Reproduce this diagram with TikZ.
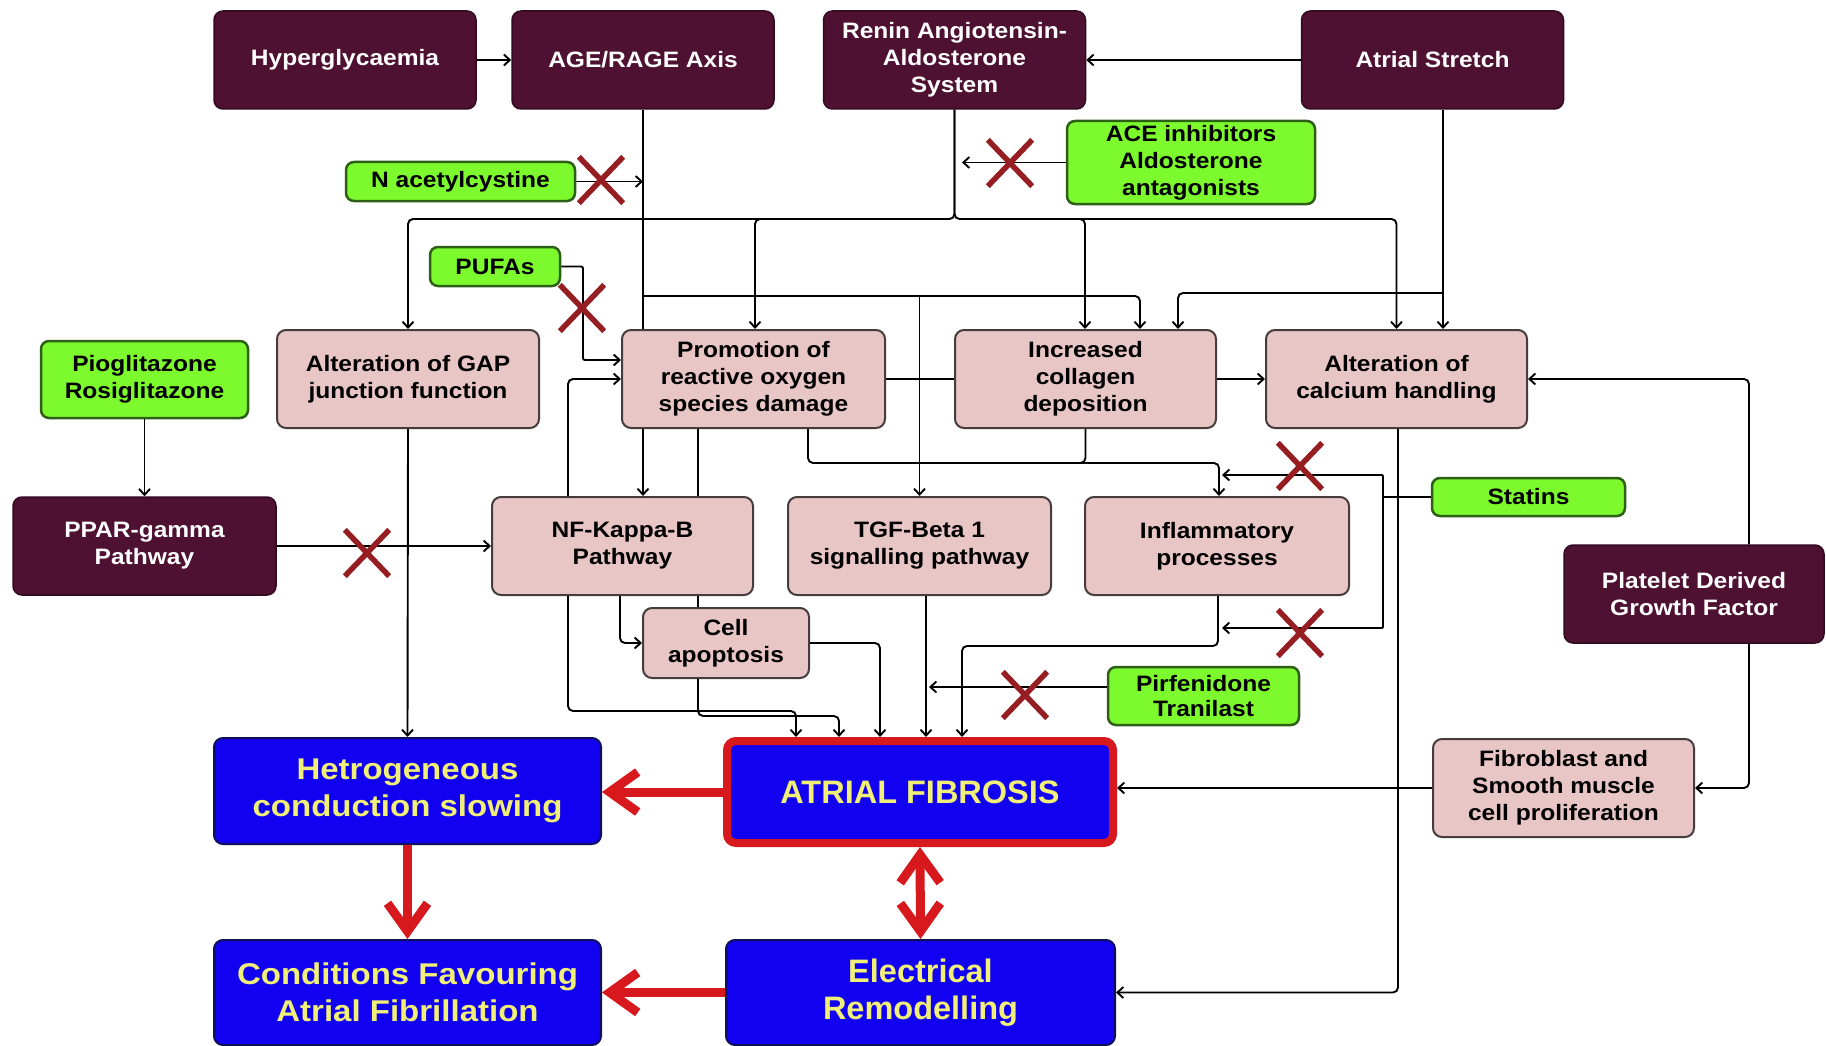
\documentclass[tikz,border=0pt]{standalone}
\usepackage{fontspec}
\setmainfont{Liberation Sans}[FakeStretch=1.1]
\newfontfamily\plainfont{Liberation Sans}
\usetikzlibrary{arrows.meta,calc}
\definecolor{maroonf}{RGB}{78,17,50}
\definecolor{maroonline}{RGB}{50,10,32}
\definecolor{pinkf}{RGB}{233,198,198}
\definecolor{pinkline}{RGB}{70,60,60}
\definecolor{greenf}{RGB}{125,250,45}
\definecolor{greenline}{RGB}{45,95,20}
\definecolor{bluef}{RGB}{18,0,240}
\definecolor{blueline}{RGB}{15,15,90}
\definecolor{yellowt}{RGB}{240,240,120}
\definecolor{redc}{RGB}{215,25,30}
\definecolor{xcol}{RGB}{150,30,35}
\newcommand{\myX}[3]{\node[xbox] (#1) at (#2,#3) {};
  \draw[xline] (#1.north west) -- (#1.south east) (#1.north east) -- (#1.south west);}
\tikzset{
  box/.style={rectangle, rounded corners=9pt, align=center, inner sep=0pt,
    minimum width=262pt, minimum height=98pt},
  smallfont/.style={font=\fontsize{22.3}{27}\selectfont\bfseries},
  darkbox/.style={box, smallfont, fill=maroonf, draw=maroonline, line width=1.5pt, text=white},
  pinkbox/.style={box, smallfont, fill=pinkf, draw=pinkline, line width=2pt, text=black},
  greenbox/.style={box, smallfont, rounded corners=8pt, fill=greenf, draw=greenline, line width=2.5pt, text=black},
  bluebox/.style={box, fill=bluef, draw=blueline, line width=2pt, text=yellowt,
    minimum width=387pt, minimum height=105pt, font=\fontsize{30}{37}\selectfont\bfseries},
  bigblue/.style={bluebox, font=\plainfont\fontsize{32.5}{37}\selectfont\bfseries},
  ln/.style={draw=black, line width=1.9pt, rounded corners=5pt},
  arr/.style={ln, -{Straight Barb[length=6pt,width=11pt]}},
  redarr/.style={draw=redc, line width=9pt, -{Straight Barb[length=28pt,width=40pt]}},
  redarr2/.style={draw=redc, line width=9pt, {Straight Barb[length=28pt,width=40pt]}-{Straight Barb[length=28pt,width=40pt]}},
  xbox/.style={rectangle, inner sep=0pt, minimum width=44pt, minimum height=46pt},
  xline/.style={draw=xcol, line width=5.5pt}
}
\begin{document}
\begin{tikzpicture}[x=1pt,y=-1pt]
\path[use as bounding box, fill=white] (0,0) rectangle (1826,1046);

% dark boxes
\node[darkbox] (hyper) at (345,60) {Hyperglycaemia};
\node[darkbox] (age) at (643,60) {AGE/RAGE Axis};
\node[darkbox] (raas) at (954.5,60) {Renin Angiotensin-\\Aldosterone\\System};
\node[darkbox] (stretch) at (1432.5,60) {Atrial Stretch};
\node[darkbox, minimum width=263pt] (ppar) at (144.5,546) {PPAR-gamma\\Pathway};
\node[darkbox, minimum width=260pt] (pdgf) at (1694,594) {Platelet Derived\\Growth Factor};

% green boxes
\node[greenbox, minimum width=229pt, minimum height=39pt] (nac) at (460.5,181.5) {N acetylcystine};
\node[greenbox, minimum width=248pt, minimum height=83pt] (ace) at (1191,162.5) {ACE inhibitors\\Aldosterone\\antagonists};
\node[greenbox, minimum width=130pt, minimum height=39pt] (pufa) at (495,266.5) {PUFAs};
\node[greenbox, minimum width=207pt, minimum height=77pt] (pio) at (144.5,379.5) {Pioglitazone\\Rosiglitazone};
\node[greenbox, minimum width=193pt, minimum height=38pt] (statins) at (1528.5,497) {Statins};
\node[greenbox, minimum width=191pt, minimum height=58pt, font=\fontsize{22.3}{25}\selectfont\bfseries] (pirf) at (1203.5,696) {Pirfenidone\\Tranilast};

% pink boxes
\node[pinkbox] (gap) at (408,379) {Alteration of GAP\\junction function};
\node[pinkbox, minimum width=263pt] (ros) at (753.5,379) {Promotion of\\reactive oxygen\\species damage};
\node[pinkbox, minimum width=261pt] (coll) at (1085.5,379) {Increased\\collagen\\deposition};
\node[pinkbox, minimum width=261pt] (calc) at (1396.5,379) {Alteration of\\calcium handling};
\node[pinkbox, minimum width=261pt] (nfkb) at (622.5,546) {NF-Kappa-B\\Pathway};
\node[pinkbox, minimum width=263pt] (tgf) at (919.5,546) {TGF-Beta 1\\signalling pathway};
\node[pinkbox, minimum width=264pt] (infl) at (1217,546) {Inflammatory\\processes};
\node[pinkbox, minimum width=166pt, minimum height=70pt] (cell) at (726,643) {Cell\\apoptosis};
\node[pinkbox, minimum width=261pt] (fibro) at (1563.5,788) {Fibroblast and\\Smooth muscle\\cell proliferation};

% blue boxes
\node[bluebox, minimum height=106pt] (hetero) at (407.5,791) {Hetrogeneous\\conduction slowing};
\node[bluebox] (cond) at (407.5,992.5) {Conditions Favouring\\Atrial Fibrillation};
\node[bigblue, draw=redc, line width=8pt, minimum width=386pt, minimum height=102pt] (fib) at (920,792) {ATRIAL FIBROSIS};
\node[bigblue, minimum width=389pt] (elec) at (920.5,992.5) {Electrical\\Remodelling};

% top row
\draw[arr] (hyper.east) -- (age.west);
\draw[arr] (stretch.west) -- (raas.east);

% AGE/RAGE line
\draw[ln] (age.south) -- (ros.north -| age.south);
\coordinate (j1) at (age.south |- 0,296);
\draw[arr] (j1) -| (coll.north -| 1140,0);
\draw[arr] (j1 -| tgf.north) -- (tgf.north);
\draw[arr] (ros.south -| age.south) -- (nfkb.north -| age.south);
\draw[arr] (nac.east) -- (nac.east -| age.south);

% RAAS branches
\coordinate (r1) at (raas.south |- 0,219);
\draw[arr] (raas.south) |- (gap.north |- r1) -- (gap.north);
\draw[arr] (raas.south) |- (calc.north |- r1) -- (calc.north);
\draw[arr] (r1 -| 770,0) -| (ros.north -| 755,0);
\draw[arr] (r1 -| 1070,0) -| (coll.north -| 1085,0);
\draw[arr] (ace.west) -- (ace.west -| 962,0);

% Atrial stretch
\draw[arr] (stretch.south -| 1443,0) -- (calc.north -| 1443,0);
\coordinate (s1) at (1443,293);
\draw[arr] (s1) -| (coll.north -| 1178,0);

% PUFAs
\draw[arr, rounded corners=2pt] (pufa.east) -| (583,360) -- (ros.west |- 0,360);

% middle row
\draw[ln] (ros.east) -- (coll.west);
\draw[arr] (coll.east) -- (calc.west);
\draw[arr] (pdgf.north -| 1749,0) |- (calc.east);
\draw[arr] (pdgf.south -| 1749,0) |- (fibro.east);
\draw[arr] (pio.south) -- (ppar.north);
\draw[arr] (ppar.east) -- (nfkb.west);
\draw[arr] (gap.south) -- (hetero.north);

% NF-kB connections
\draw[arr] (nfkb.north -| 568,0) |- (ros.west);
\draw[arr] (nfkb.south -| 568,0) |- (796,711) -- (fib.north -| 796,0);
\draw[arr] (nfkb.south -| 620,0) |- (cell.west);
\draw[ln] (ros.south -| 698,0) -- (nfkb.north -| 698,0);
\draw[ln] (nfkb.south -| 698,0) -- (cell.north -| 698,0);
\draw[arr] (cell.south -| 698,0) |- (839,716) -- (fib.north -| 839,0);
\draw[arr] (cell.east) -| (fib.north -| 880,0);
\draw[arr] (tgf.south -| 926,0) -- (fib.north -| 926,0);
\draw[arr] (infl.south -| 1218,0) |- (962,646) -- (fib.north -| 962,0);
\draw[arr] (pirf.west |- 0,687) -- (929,687);

% ROS / collagen to inflammatory
\draw[arr] (ros.south -| 808,0) |- (1219,463) -- (infl.north -| 1219,0);
\draw[ln] (coll.south) |- (1070,463);

% statins
\coordinate (sv) at (statins.west -| 1383,0);
\draw[ln] (statins.west) -- (sv);
\draw[arr, rounded corners=1pt] (sv) |- (1222,475);
\draw[arr, rounded corners=1pt] (sv) |- (1222,628);

% right side
\draw[arr] (calc.south -| 1398,0) |- (elec.east);
\draw[arr] (fibro.west) -- (fibro.west -| fib.east);

% red arrows
\draw[redarr] (fib.west) -- (fib.west -| hetero.east);
\draw[redarr] (hetero.south) -- (cond.north);
\draw[redarr] (elec.west) -- (elec.west -| cond.east);
\draw[redarr2] (fib.south) -- (elec.north);

% inhibition marks
\myX{xa}{601}{180}
\myX{xb}{582}{308}
\myX{xc}{1010}{163}
\myX{xd}{367}{553}
\myX{xe}{1300}{466}
\myX{xf}{1300}{633}
\myX{xg}{1025}{695}
\end{tikzpicture}
\end{document}
